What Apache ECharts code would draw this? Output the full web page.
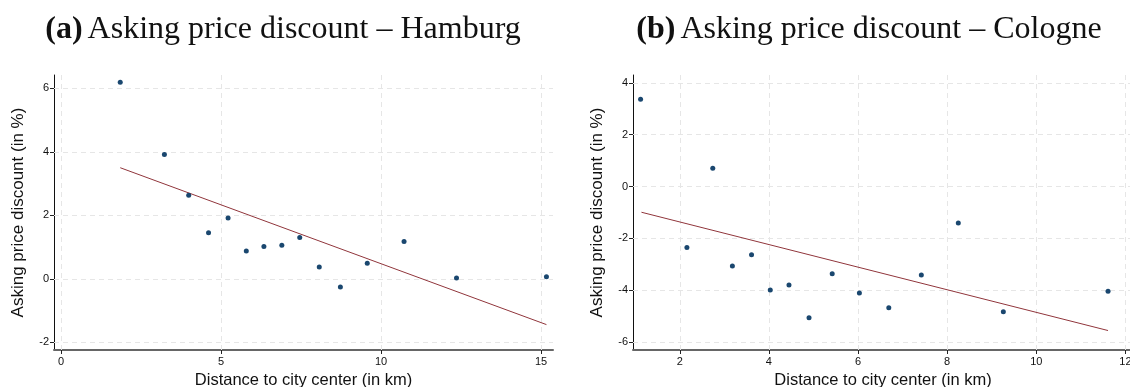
<!DOCTYPE html>
<html>
<head>
<meta charset="utf-8">
<script src="https://cdn.jsdelivr.net/npm/echarts@6/dist/echarts.min.js"></script>
<style>
html,body{margin:0;padding:0;background:#fff;}
#c{width:1130px;height:387px;}
</style>
</head>
<body>
<div id="c"></div>
<script>
// Hamburg
const hamburgDist = [1.85, 3.23, 3.99, 4.61, 5.22, 5.79, 6.34, 6.90, 7.46, 8.07, 8.73, 9.57, 10.72, 12.36, 15.17];
const hamburgDisc = [6.19, 3.92, 2.63, 1.45, 1.92, 0.88, 1.02, 1.06, 1.30, 0.37, -0.26, 0.49, 1.18, 0.03, 0.07];
const hamburgFitX = [1.85, 15.17];
const hamburgFitY = [3.50, -1.44];
// Cologne
const cologneDist = [1.12, 2.16, 2.74, 3.18, 3.61, 4.03, 4.45, 4.90, 5.42, 6.03, 6.69, 7.42, 8.25, 9.26, 11.61];
const cologneDisc = [3.37, -2.35, 0.71, -3.06, -2.63, -3.99, -3.79, -5.06, -3.36, -4.10, -4.67, -3.41, -1.40, -4.83, -4.04];
const cologneFitX = [1.14, 11.61];
const cologneFitY = [-0.99, -5.55];
// tick labels
const hamburgXTicks = [0, 5, 10, 15];
const hamburgYTicks = [-2, 0, 2, 4, 6];
const cologneXTicks = [2, 4, 6, 8, 10, 12];
const cologneYTicks = [-6, -4, -2, 0, 2, 4];

const titleA = 'Asking price discount – Hamburg';
const titleB = 'Asking price discount – Cologne';
const xName = 'Distance to city center (in km)';
const yName = 'Asking price discount (in %)';

const pairs = (xs, ys) => xs.map((x, i) => [x, ys[i]]);
const sans = 'Liberation Sans, Arial, sans-serif';

function xAxis(idx, min, max, ticks) {
  return {
    type: 'value', gridIndex: idx, min, max,
    name: xName, nameLocation: 'middle', nameGap: 21,
    nameTextStyle: {fontFamily: sans, fontSize: 16.5, color: '#111'},
    axisLine: {show: true, onZero: false, lineStyle: {color: '#666', width: 2}},
    axisTick: {show: true, length: 4, customValues: ticks, lineStyle: {color: '#222', width: 1}},
    axisLabel: {fontFamily: sans, fontSize: 11, color: '#111', margin: 6, customValues: ticks},
    splitLine: {show: false}
  };
}
function yAxis(idx, min, max, ticks) {
  return {
    type: 'value', gridIndex: idx, min, max,
    name: yName, nameLocation: 'middle', nameGap: 27, nameRotate: 90,
    nameTextStyle: {fontFamily: sans, fontSize: 17, color: '#111'},
    axisLine: {show: true, onZero: false, lineStyle: {color: '#111', width: 1}},
    axisTick: {show: true, length: 4, customValues: ticks, lineStyle: {color: '#222', width: 1}},
    axisLabel: {fontFamily: sans, fontSize: 11, color: '#111', margin: 5, customValues: ticks},
    splitLine: {show: false}
  };
}
function gridMarks(xt, yt) {
  return {
    silent: true, symbol: 'none', animation: false,
    label: {show: false},
    lineStyle: {color: '#e6e6e6', type: [5, 4], width: 1},
    emphasis: {disabled: true},
    data: xt.map(v => ({xAxis: v})).concat(yt.map(v => ({yAxis: v})))
  };
}

const chart = echarts.init(document.getElementById('c'), null, {renderer: 'canvas'});
const titleRich = {
  b: {fontFamily: 'Liberation Serif, serif', fontWeight: 'bold', fontSize: 32, color: '#111'},
  r: {fontFamily: 'Liberation Serif, serif', fontWeight: 'normal', fontSize: 32, color: '#111'}
};
chart.setOption({
  backgroundColor: '#fff',
  animation: false,
  title: [
    {text: '{b|(a)} {r|' + titleA + '}', left: 278, top: 9, textAlign: 'center', textStyle: {rich: titleRich}},
    {text: '{b|(b)} {r|' + titleB + '}', left: 864, top: 9, textAlign: 'center', textStyle: {rich: titleRich}}
  ],
  grid: [
    {left: 54, top: 75, width: 499, height: 275, containLabel: false, outerBoundsMode: 'none'},
    {left: 633, top: 75, width: 500, height: 275, containLabel: false, outerBoundsMode: 'none'}
  ],
  xAxis: [
    xAxis(0, -0.22, 15.375, hamburgXTicks),
    xAxis(1, 0.95, 12.17, cologneXTicks)
  ],
  yAxis: [
    yAxis(0, -2.24, 6.42, hamburgYTicks),
    yAxis(1, -6.3, 4.3, cologneYTicks)
  ],
  series: [
    {type: 'line', xAxisIndex: 0, yAxisIndex: 0, data: [], markLine: gridMarks(hamburgXTicks, hamburgYTicks), z: 1},
    {type: 'line', xAxisIndex: 1, yAxisIndex: 1, data: [], markLine: gridMarks(cologneXTicks, cologneYTicks), z: 1},
    {type: 'line', xAxisIndex: 0, yAxisIndex: 0, zlevel: 1, symbol: 'none', lineStyle: {color: '#90353b', width: 1}, data: pairs(hamburgFitX, hamburgFitY), z: 2},
    {type: 'scatter', xAxisIndex: 0, yAxisIndex: 0, zlevel: 1, symbolSize: 5, itemStyle: {color: '#1a476f', opacity: 1}, data: pairs(hamburgDist, hamburgDisc), z: 3},
    {type: 'line', xAxisIndex: 1, yAxisIndex: 1, zlevel: 1, symbol: 'none', lineStyle: {color: '#90353b', width: 1}, data: pairs(cologneFitX, cologneFitY), z: 2},
    {type: 'scatter', xAxisIndex: 1, yAxisIndex: 1, zlevel: 1, symbolSize: 5, itemStyle: {color: '#1a476f', opacity: 1}, data: pairs(cologneDist, cologneDisc), z: 3}
  ]
});
</script>
</body>
</html>
